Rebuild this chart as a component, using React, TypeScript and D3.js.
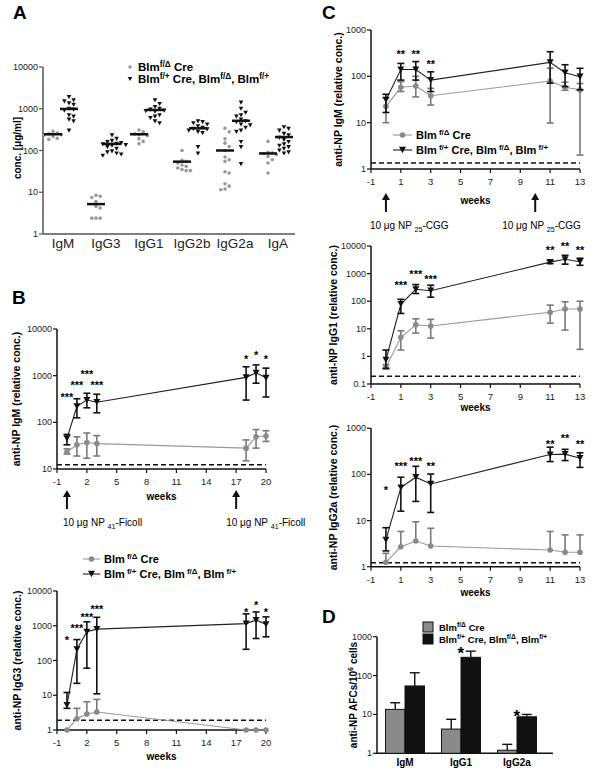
import React from "react";
import * as d3 from "d3";

const FONT = "Arial, 'Liberation Sans', Helvetica, sans-serif";
const GRAY = "#8a8a8a";
const BLACK = "#111";

// ---------------- Panel A data ----------------
const isotypesA = ["IgM", "IgG3", "IgG1", "IgG2b", "IgG2a", "IgA"];
const yTicksA = [1, 10, 100, 1000, 10000];
const grayDotsA = [
  [290, 265, 250, 240, 235, 215, 195, 185],
  [8.5, 8, 7.5, 6, 4.6, 4.2, 2.4, 2.4, 2.4],
  [310, 280, 250, 240, 230, 190, 165, 145],
  [100, 58, 55, 50, 45, 42, 38, 35, 33, 33],
  [340, 280, 190, 150, 125, 100, 70, 60, 55, 31, 29, 16, 14, 12, 11.5],
  [165, 90, 88, 85, 80, 72, 60, 50, 29],
];
const blackDotsA = [
  [1900, 1600, 1500, 1350, 1250, 1000, 950, 900, 700, 650, 550, 500, 300],
  [230, 190, 170, 160, 150, 145, 140, 135, 130, 120, 110, 95, 90, 85, 80, 75],
  [1600, 1300, 1100, 1000, 950, 900, 880, 850, 700, 650, 600, 500, 450],
  [500, 480, 450, 420, 380, 350, 330, 320, 300, 280, 260, 120, 85],
  [1400, 1000, 800, 700, 650, 550, 500, 480, 420, 400, 350, 300, 280, 160, 120, 47],
  [360, 330, 300, 250, 230, 200, 180, 160, 140, 130, 120, 110, 100, 90, 85],
];
const grayMedianA = [245, 5.2, 245, 54, 100, 85];
const blackMedianA = [990, 144, 935, 340, 515, 210];

// ---------------- Panel B data ----------------
const weeksB = [0, 1, 2, 3, 18, 19, 20];
const xTicksB = [-1, 2, 5, 8, 11, 14, 17, 20];
const boostsB = [0, 17];

const bIgMBlack = [45, 220, 300, 270, 920, 1150, 900];
const bIgMBlackHi = [55, 320, 420, 400, 1550, 1700, 1450];
const bIgMBlackLo = [33, 125, 205, 160, 300, 690, 350];
const bIgMGray = [23, 33, 37, 35, 28, 49, 51];
const bIgMGrayHi = [27, 49, 59, 52, 42, 70, 66];
const bIgMGrayLo = [21, 19, 17, 19, 15, 28, 39];
const bIgMStars = ["***", "***", "***", "***", "*", "*", "*"];
const bIgMStarLevel = [390, 690, 1200, 690, 2500, 3100, 2500];
const bIgMCutoff = 12.3;
const yTicksBIgM = [10, 100, 1000, 10000];

const bIgG3Black = [5.2, 210, 670, 800, 1150, 1450, 1100];
const bIgG3BlackHi = [12, 400, 1300, 1750, 2200, 2500, 1800];
const bIgG3BlackLo = [4.2, 22, 60, 11, 210, 430, 480];
const bIgG3Gray = [1, 2.1, 2.9, 3.3, 1, 1, 1];
const bIgG3GrayHi = [1, 4.2, 6.5, 7.6, 1, 1, 1];
const bIgG3GrayLo = [1, 2.1, 2.9, 3.3, 1, 1, 1];
const bIgG3Stars = ["*", "***", "***", "***", "*", "*", "*"];
const bIgG3StarLevel = [450, 980, 2000, 3500, 2800, 4500, 2800];
const bIgG3Cutoff = 1.9;
const yTicksBIgG3 = [1, 10, 100, 1000, 10000];

// ---------------- Panel C data ----------------
const weeksC = [0, 1, 2, 3, 11, 12, 13];
const xTicksC = [-1, 1, 3, 5, 7, 9, 11, 13];
const boostsC = [0, 10];

const cIgMBlack = [31, 140, 140, 83, 200, 120, 98];
const cIgMBlackHi = [41, 190, 208, 125, 340, 178, 149];
const cIgMBlackLo = [16.6, 83, 83, 47, 71, 60, 51];
const cIgMGray = [22.5, 58, 62, 38, 79, 58, 51];
const cIgMGrayHi = [34, 77, 100, 55, 150, 75, 70];
const cIgMGrayLo = [10, 47, 36, 24, 9.8, 50, 2.0];
const cIgMStars = ["", "**", "**", "**", "", "", ""];
const cIgMStarLevel = [1, 340, 340, 200, 1, 1, 1];
const cIgMCutoff = 1.35;
const yTicksCIgM = [1, 10, 100, 1000];

const cIgG1Black = [0.74, 79, 270, 240, 2600, 3300, 2700];
const cIgG1BlackHi = [1.7, 117, 400, 380, 3000, 4600, 3600];
const cIgG1BlackLo = [0.37, 36, 190, 140, 2300, 2200, 2000];
const cIgG1Gray = [0.4, 4.9, 14, 12.6, 40, 52, 52];
const cIgG1GrayHi = [0.5, 8.5, 23, 22, 72, 95, 100];
const cIgG1GrayLo = [0.35, 1.7, 7, 4.6, 16, 9, 1.8];
const cIgG1Stars = ["", "***", "***", "***", "**", "**", "**"];
const cIgG1StarLevel = [1, 470, 1170, 770, 8200, 11800, 8200];
const cIgG1Cutoff = 0.19;
const yTicksCIgG1 = [0.1, 1, 10, 100, 1000, 10000];

const cIgG2aBlack = [3.8, 52, 87, 62, 270, 275, 225];
const cIgG2aBlackHi = [7, 87, 150, 102, 390, 350, 295];
const cIgG2aBlackLo = [2.2, 16, 26, 15, 190, 200, 142];
const cIgG2aGray = [1.25, 2.7, 3.6, 2.8, 2.3, 2.05, 2.05];
const cIgG2aGrayHi = [1.95, 5.8, 9.4, 6.8, 5.8, 4.9, 4.9];
const cIgG2aGrayLo = [1.25, 2.7, 3.6, 2.8, 2.3, 2.05, 2.05];
const cIgG2aStars = ["*", "***", "***", "**", "**", "**", "**"];
const cIgG2aStarLevel = [52, 170, 215, 170, 500, 680, 500];
const cIgG2aCutoff = 1.22;
const yTicksCIgG2a = [1, 10, 100, 1000];

// ---------------- Panel D data ----------------
const isotypesD = ["IgM", "IgG1", "IgG2a"];
const dGray = [13.5, 4.2, 1.2];
const dGrayHi = [20, 7.5, 1.7];
const dBlack = [54, 295, 8.7];
const dBlackHi = [118, 425, 10];
const dStars = ["", "*", "*"];
const yTicksD = [1, 10, 100, 1000];

// ---------------- helpers ----------------
type Part = [string, string?];
function rich(parts: Part[], size: number) {
  let cur = 0;
  return parts.map(([t, k], i) => {
    const target = k === "sup" ? -size * 0.38 : k === "sub" ? size * 0.28 : 0;
    const dy = target - cur;
    cur = target;
    return (
      <tspan key={i} dy={dy} fontSize={k ? size * 0.72 : size}>
        {t}
      </tspan>
    );
  });
}

const legend1: Part[] = [["Blm"], [" f/Δ", "sup"], [" Cre"]];
const legend2: Part[] = [["Blm"], [" f/+", "sup"], [" Cre, Blm"], [" f/Δ", "sup"], [", Blm"], [" f/+", "sup"]];
const legend1Tight: Part[] = [["Blm"], ["f/Δ", "sup"], [" Cre"]];
const legend2Tight: Part[] = [["Blm"], ["f/+", "sup"], [" Cre, Blm"], ["f/Δ", "sup"], [", Blm"], ["f/+", "sup"]];

function tri(cx: number, cy: number, w: number) {
  const h = w * 0.9;
  return `M${cx - w / 2},${cy - h / 2}L${cx + w / 2},${cy - h / 2}L${cx},${cy + h / 2}Z`;
}

function fmtTick(v: number) {
  return v < 1 ? String(v) : d3.format("d")(v);
}

function LogYAxis({ y, ticks, x0, color = BLACK }: any) {
  const r = y.range();
  return (
    <g>
      <line x1={x0} x2={x0} y1={r[0]} y2={r[1]} stroke={color} strokeWidth={1.5} />
      {ticks.map((t: number) => (
        <g key={t}>
          <line x1={x0 - 4} x2={x0} y1={y(t)} y2={y(t)} stroke={color} strokeWidth={1.2} />
          <text x={x0 - 5} y={y(t) + 3} textAnchor="end" fontSize={9} fill="#222">
            {fmtTick(t)}
          </text>
        </g>
      ))}
    </g>
  );
}

function swarm(values: number[], cx: number, y: any, step: number) {
  const pts: { x: number; y: number }[] = [];
  const sorted = [...values].sort((a, b) => b - a);
  for (const v of sorted) {
    const py = y(v);
    for (let k = 0; k < 30; k++) {
      const off = k === 0 ? 0 : (k % 2 === 1 ? 1 : -1) * Math.ceil(k / 2) * step;
      const px = cx + off;
      if (!pts.some((p) => Math.hypot(p.x - px, p.y - py) < step * 0.95)) {
        pts.push({ x: px, y: py });
        break;
      }
    }
  }
  return pts;
}

function PanelA() {
  const x = d3.scaleBand().domain(isotypesA).range([41.5, 299.5]);
  const y = d3.scaleLog().domain([1, 10000]).range([234, 67]);
  const bw = x.bandwidth();
  return (
    <g>
      <LogYAxis y={y} ticks={yTicksA} x0={43} color="#555" />
      <line x1={43} x2={295} y1={234} y2={234} stroke="#555" strokeWidth={1.5} />
      {isotypesA.map((c, i) => {
        const cx = (x(c) as number) + bw / 2;
        const gx = cx - 10;
        const bx = cx + 6;
        const gp = swarm(grayDotsA[i], gx, y, 4.2);
        const bp = swarm(blackDotsA[i], bx, y, 4.6);
        return (
          <g key={c}>
            {gp.map((p, j) => (
              <circle key={j} cx={p.x} cy={p.y} r={1.8} fill="#999" />
            ))}
            {bp.map((p, j) => (
              <path key={j} d={tri(p.x, p.y, 4.6)} fill={BLACK} />
            ))}
            <line x1={gx - 9} x2={gx + 9} y1={y(grayMedianA[i])} y2={y(grayMedianA[i])} stroke={BLACK} strokeWidth={2.5} />
            <line x1={bx - 9} x2={bx + 9} y1={y(blackMedianA[i])} y2={y(blackMedianA[i])} stroke={BLACK} strokeWidth={2.5} />
            <text x={cx} y={248} textAnchor="middle" fontSize={13.5} fill="#222">
              {c}
            </text>
          </g>
        );
      })}
      <text transform="translate(21,148) rotate(-90)" textAnchor="middle" fontSize={10} fontWeight="bold">
        conc. [μg/ml]
      </text>
      <circle cx={130} cy={67} r={1.8} fill="#999" />
      <text x={138} y={71} fontSize={11.5} fontWeight="bold">
        {rich(legend1Tight, 11.5)}
      </text>
      <path d={tri(130, 79, 4.6)} fill={BLACK} />
      <text x={138} y={83} fontSize={11.5} fontWeight="bold">
        {rich(legend2Tight, 11.5)}
      </text>
    </g>
  );
}

function ErrorBars({ x, y, xs, vals, his, los, color }: any) {
  return (
    <g stroke={color} strokeWidth={1.6}>
      {xs.map((w: number, i: number) => {
        const px = x(w);
        const els = [] as any[];
        if (his[i] > vals[i]) {
          els.push(<line key="h" x1={px} x2={px} y1={y(vals[i])} y2={y(his[i])} />);
          els.push(<line key="hc" x1={px - 3.5} x2={px + 3.5} y1={y(his[i])} y2={y(his[i])} />);
        }
        if (los[i] < vals[i]) {
          els.push(<line key="l" x1={px} x2={px} y1={y(vals[i])} y2={y(los[i])} />);
          els.push(<line key="lc" x1={px - 3.5} x2={px + 3.5} y1={y(los[i])} y2={y(los[i])} />);
        }
        return <g key={i}>{els}</g>;
      })}
    </g>
  );
}

function TimePanel(p: any) {
  const x = d3.scaleLinear().domain(p.xDomain).range(p.xRange);
  const y = d3.scaleLog().domain(p.yDomain).range(p.yRange);
  const x0 = p.xRange[0];
  const yb = p.yRange[0];
  const line = d3
    .line<number>()
    .x((_, i) => x(p.weeks[i]))
    .y((v) => y(v));
  return (
    <g>
      <line x1={x0} x2={p.xRange[1]} y1={y(p.cutoff)} y2={y(p.cutoff)} stroke={BLACK} strokeWidth={1.5} strokeDasharray="5,3" />
      <LogYAxis y={y} ticks={p.yTicks} x0={x0} />
      <line x1={x0} x2={p.xRange[1]} y1={yb} y2={yb} stroke={BLACK} strokeWidth={1.5} />
      {p.xTicks.map((t: number) => (
        <g key={t}>
          <line x1={x(t)} x2={x(t)} y1={yb} y2={yb + 4} stroke={BLACK} strokeWidth={1.2} />
          <text x={x(t)} y={yb + 16} textAnchor="middle" fontSize={9.5} fill="#222">
            {t}
          </text>
        </g>
      ))}
      <text x={(p.xRange[0] + p.xRange[1]) / 2} y={yb + p.weeksDy} textAnchor="middle" fontSize={10} fontWeight="bold">
        weeks
      </text>
      <text transform={`translate(${p.labelX},${(p.yRange[0] + p.yRange[1]) / 2}) rotate(-90)`} textAnchor="middle" fontSize={10.5} fontWeight="bold">
        {rich(p.yLabel, 10.5)}
      </text>
      {/* gray series */}
      <path d={line(p.gray) || ""} fill="none" stroke="#999" strokeWidth={1.1} />
      <ErrorBars x={x} y={y} xs={p.weeks} vals={p.gray} his={p.grayHi} los={p.grayLo} color="#7a7a7a" />
      {p.gray.map((v: number, i: number) => (
        <circle key={i} cx={x(p.weeks[i])} cy={y(v)} r={2.8} fill={GRAY} />
      ))}
      {/* black series */}
      <path d={line(p.black) || ""} fill="none" stroke="#222" strokeWidth={1.1} />
      <ErrorBars x={x} y={y} xs={p.weeks} vals={p.black} his={p.blackHi} los={p.blackLo} color={BLACK} />
      {p.black.map((v: number, i: number) => (
        <path key={i} d={tri(x(p.weeks[i]), y(v), 7)} fill={BLACK} />
      ))}
      {p.stars.map((s: string, i: number) =>
        s ? (
          <text key={i} x={x(p.weeks[i])} y={y(p.starLevel[i]) + 6} textAnchor="middle" fontSize={11} fontWeight="bold">
            {s}
          </text>
        ) : null
      )}
      {p.boosts &&
        p.boosts.map((b: number, i: number) => (
          <g key={i}>
            <line x1={x(b)} x2={x(b)} y1={p.arrowTop + 6} y2={p.arrowTop + 19} stroke={BLACK} strokeWidth={2} />
            <path d={`M${x(b) - 4},${p.arrowTop + 7}L${x(b) + 4},${p.arrowTop + 7}L${x(b)},${p.arrowTop}Z`} fill={BLACK} />
            <text x={x(b) + p.boostDx[i]} y={p.arrowTop + 36} fontSize={10}>
              {rich(p.boostText, 10)}
            </text>
          </g>
        ))}
    </g>
  );
}

function Legend({ x, y, w }: any) {
  const mx = x + w / 2;
  return (
    <g>
      <line x1={x} x2={x + w} y1={y} y2={y} stroke="#999" strokeWidth={1.1} />
      <circle cx={mx} cy={y} r={2.8} fill={GRAY} />
      <text x={x + w + 4} y={y + 4} fontSize={11} fontWeight="bold">
        {rich(legend1, 11)}
      </text>
      <line x1={x} x2={x + w} y1={y + 15} y2={y + 15} stroke="#222" strokeWidth={1.1} />
      <path d={tri(mx, y + 15, 7)} fill={BLACK} />
      <text x={x + w + 4} y={y + 19} fontSize={11} fontWeight="bold">
        {rich(legend2, 11)}
      </text>
    </g>
  );
}

function PanelD() {
  const x = d3.scaleBand().domain(isotypesD).range([377, 545]);
  const y = d3.scaleLog().domain([1, 1000]).range([753.3, 636.7]);
  const bw = 19.5;
  return (
    <g>
      <LogYAxis y={y} ticks={yTicksD} x0={377} />
      <line x1={377} x2={553} y1={753.3} y2={753.3} stroke={BLACK} strokeWidth={1.5} />
      {isotypesD.map((c, i) => {
        const cx = (x(c) as number) + x.bandwidth() / 2;
        return (
          <g key={c}>
            <line x1={cx - bw / 2} x2={cx - bw / 2} y1={y(dGray[i])} y2={y(dGrayHi[i])} stroke={BLACK} strokeWidth={1.4} />
            <line x1={cx - bw / 2 - 5} x2={cx - bw / 2 + 5} y1={y(dGrayHi[i])} y2={y(dGrayHi[i])} stroke={BLACK} strokeWidth={1.4} />
            <line x1={cx + bw / 2} x2={cx + bw / 2} y1={y(dBlack[i])} y2={y(dBlackHi[i])} stroke={BLACK} strokeWidth={1.4} />
            <line x1={cx + bw / 2 - 5} x2={cx + bw / 2 + 5} y1={y(dBlackHi[i])} y2={y(dBlackHi[i])} stroke={BLACK} strokeWidth={1.4} />
            <rect x={cx - bw} y={y(dGray[i])} width={bw} height={753.3 - y(dGray[i])} fill={GRAY} stroke={BLACK} strokeWidth={1} />
            <rect x={cx} y={y(dBlack[i])} width={bw} height={753.3 - y(dBlack[i])} fill={BLACK} stroke={BLACK} strokeWidth={1} />
            {dStars[i] && (
              <text x={cx + bw / 2 - 10} y={y(dBlackHi[i]) + 8} textAnchor="middle" fontSize={17} fontWeight="bold">
                {dStars[i]}
              </text>
            )}
            <text x={cx} y={766} textAnchor="middle" fontSize={10} fontWeight="bold">
              {c}
            </text>
          </g>
        );
      })}
      <text transform="translate(357,695) rotate(-90)" textAnchor="middle" fontSize={10} fontWeight="bold">
        {rich([["anti-NP AFCs/10"], ["6", "sup"], [" cells"]], 10)}
      </text>
      <rect x={423} y={622} width={10} height={10} fill={GRAY} stroke={BLACK} strokeWidth={1} />
      <text x={439} y={631} fontSize={9.5} fontWeight="bold">
        {rich(legend1Tight, 9.5)}
      </text>
      <rect x={423} y={634} width={10} height={10} fill={BLACK} stroke={BLACK} strokeWidth={1} />
      <text x={439} y={643} fontSize={9.5} fontWeight="bold">
        {rich(legend2Tight, 9.5)}
      </text>
    </g>
  );
}

export default function App() {
  const ficoll: Part[] = [["10 μg NP "], ["41", "sub"], ["-Ficoll"]];
  const cgg: Part[] = [["10 μg NP "], ["25", "sub"], ["-CGG"]];
  return (
    <div style={{ position: "absolute", left: 0, top: 0 }}>
      <svg width={600} height={773} fontFamily={FONT} style={{ display: "block", background: "#fff" }}>
        <PanelA />
        <TimePanel
          xDomain={[-1, 20]} xRange={[57, 266]} yDomain={[10, 10000]} yRange={[469, 329]}
          xTicks={xTicksB} yTicks={yTicksBIgM} weeks={weeksB}
          black={bIgMBlack} blackHi={bIgMBlackHi} blackLo={bIgMBlackLo}
          gray={bIgMGray} grayHi={bIgMGrayHi} grayLo={bIgMGrayLo}
          cutoff={bIgMCutoff} stars={bIgMStars} starLevel={bIgMStarLevel}
          yLabel={[["anti-NP IgM (relative conc.)"]]} labelX={20} weeksDy={31}
          boosts={boostsB} arrowTop={490} boostDx={[-4, -10]} boostText={ficoll}
        />
        <TimePanel
          xDomain={[-1, 20]} xRange={[57, 266]} yDomain={[1, 10000]} yRange={[730, 591]}
          xTicks={xTicksB} yTicks={yTicksBIgG3} weeks={weeksB}
          black={bIgG3Black} blackHi={bIgG3BlackHi} blackLo={bIgG3BlackLo}
          gray={bIgG3Gray} grayHi={bIgG3GrayHi} grayLo={bIgG3GrayLo}
          cutoff={bIgG3Cutoff} stars={bIgG3Stars} starLevel={bIgG3StarLevel}
          yLabel={[["anti-NP IgG3 (relative conc.)"]]} labelX={21} weeksDy={30}
        />
        <Legend x={83} y={559} w={17} />
        <TimePanel
          xDomain={[-1, 13]} xRange={[371, 580]} yDomain={[1, 1000]} yRange={[169, 30]}
          xTicks={xTicksC} yTicks={yTicksCIgM} weeks={weeksC}
          black={cIgMBlack} blackHi={cIgMBlackHi} blackLo={cIgMBlackLo}
          gray={cIgMGray} grayHi={cIgMGrayHi} grayLo={cIgMGrayLo}
          cutoff={cIgMCutoff} stars={cIgMStars} starLevel={cIgMStarLevel}
          yLabel={[["anti-NP IgM (relative conc.)"]]} labelX={342} weeksDy={35}
          boosts={boostsC} arrowTop={193} boostDx={[-16, -33]} boostText={cgg}
        />
        <Legend x={393} y={135} w={19} />
        <TimePanel
          xDomain={[-1, 13]} xRange={[371, 580]} yDomain={[0.1, 10000]} yRange={[384, 246]}
          xTicks={xTicksC} yTicks={yTicksCIgG1} weeks={weeksC}
          black={cIgG1Black} blackHi={cIgG1BlackHi} blackLo={cIgG1BlackLo}
          gray={cIgG1Gray} grayHi={cIgG1GrayHi} grayLo={cIgG1GrayLo}
          cutoff={cIgG1Cutoff} stars={cIgG1Stars} starLevel={cIgG1StarLevel}
          yLabel={[["anti-NP IgG1 (relative conc.)"]]} labelX={337} weeksDy={27}
        />
        <TimePanel
          xDomain={[-1, 13]} xRange={[371, 580]} yDomain={[1, 1000]} yRange={[566.7, 428.3]}
          xTicks={xTicksC} yTicks={yTicksCIgG2a} weeks={weeksC}
          black={cIgG2aBlack} blackHi={cIgG2aBlackHi} blackLo={cIgG2aBlackLo}
          gray={cIgG2aGray} grayHi={cIgG2aGrayHi} grayLo={cIgG2aGrayLo}
          cutoff={cIgG2aCutoff} stars={cIgG2aStars} starLevel={cIgG2aStarLevel}
          yLabel={[["anti-NP IgG2a (relative conc.)"]]} labelX={337} weeksDy={29}
        />
        <PanelD />
        <g fontSize={19} fontWeight="bold">
          <text x={13} y={19}>A</text>
          <text x={12} y={304}>B</text>
          <text x={322} y={19}>C</text>
          <text x={322} y={623}>D</text>
        </g>
      </svg>
    </div>
  );
}
